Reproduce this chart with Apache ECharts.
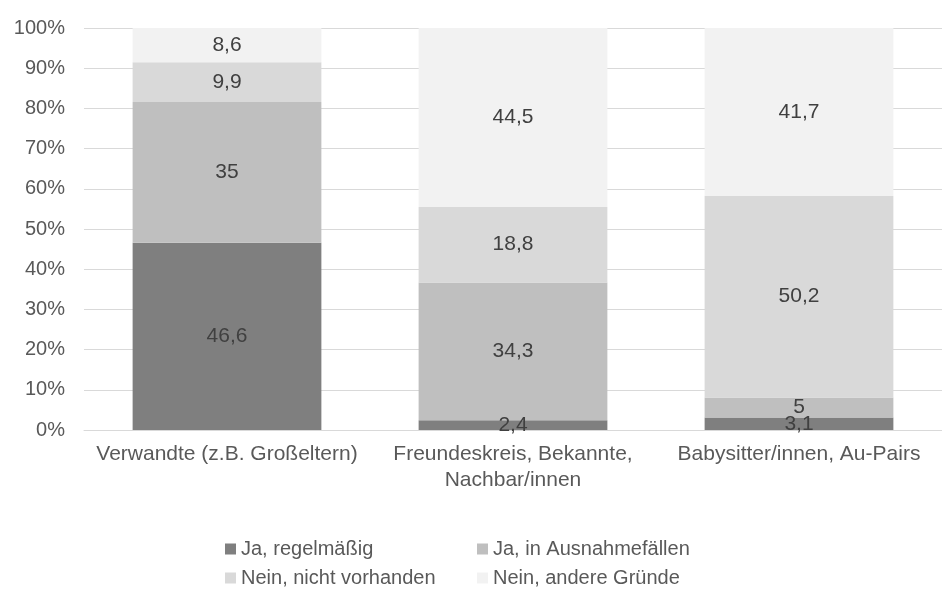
<!DOCTYPE html>
<html>
<head>
<meta charset="utf-8">
<script src="https://cdn.jsdelivr.net/npm/echarts@6/dist/echarts.min.js"></script>
<style>
	html, body { margin: 0; padding: 0; background: #fff; }
	#chart { width: 942px; height: 591px; }
</style>
</head>
<body>
<div id="chart"></div>
<script>
	// Kategorien und Werte (Prozent)
	var categories = ['Verwandte (z.B. Großeltern)', 'Freundeskreis, Bekannte,\nNachbar/innen', 'Babysitter/innen, Au-Pairs'];
	var seriesNames = ['Ja, regelmäßig', 'Ja, in Ausnahmefällen', 'Nein, nicht vorhanden', 'Nein, andere Gründe'];
	var jaRegel = [46.6, 2.4, 3.1];
	var jaAusnahme = [35, 34.3, 5];
	var neinNicht = [9.9, 18.8, 50.2];
	var neinAndere = [8.6, 44.5, 41.7];
	var colors = ['#7f7f7f', '#bfbfbf', '#d9d9d9', '#f2f2f2'];

	var font = 'Liberation Sans, Arial, sans-serif';
	var chart = echarts.init(document.getElementById('chart'));

	function mk(name, data, color) {
		return {
			name: name,
			type: 'bar',
			stack: 'total',
			barWidth: '66%',
			data: data,
			itemStyle: { color: color },
			label: {
				show: true,
				position: 'inside',
				color: '#404040',
				fontSize: 21,
				fontFamily: font,
				formatter: function (p) { return String(p.value).replace('.', ','); }
			}
		};
	}

	var legendText = { color: '#595959', fontSize: 20, fontFamily: font };

	var option = {
		animation: false,
		color: colors,
		grid: { left: 84, right: -8, top: 28, height: 402 },
		legend: [{
			orient: 'vertical',
			left: 225, top: 539, height: 60, padding: 0,
			itemWidth: 11, itemHeight: 11, itemGap: 9,
			icon: 'rect',
			textStyle: legendText,
			data: [seriesNames[0], seriesNames[2]]
		}, {
			orient: 'vertical',
			left: 477, top: 539, height: 60, padding: 0,
			itemWidth: 11, itemHeight: 11, itemGap: 9,
			icon: 'rect',
			textStyle: legendText,
			data: [seriesNames[1], seriesNames[3]]
		}],
		xAxis: {
			type: 'category',
			data: categories,
			axisLine: { lineStyle: { color: '#d9d9d9' } },
			axisTick: { show: false },
			axisLabel: { color: '#595959', fontSize: 21, fontFamily: font, margin: 11, interval: 0, lineHeight: 26 }
		},
		yAxis: {
			type: 'value',
			min: 0, max: 100, interval: 10,
			axisLabel: { color: '#595959', fontSize: 20, fontFamily: font, formatter: '{value}%', margin: 19 },
			splitLine: { lineStyle: { color: '#d9d9d9' } }
		},
		series: [
			mk(seriesNames[0], jaRegel, colors[0]),
			mk(seriesNames[1], jaAusnahme, colors[1]),
			mk(seriesNames[2], neinNicht, colors[2]),
			mk(seriesNames[3], neinAndere, colors[3])
		]
	};

	chart.setOption(option);
</script>
</body>
</html>
